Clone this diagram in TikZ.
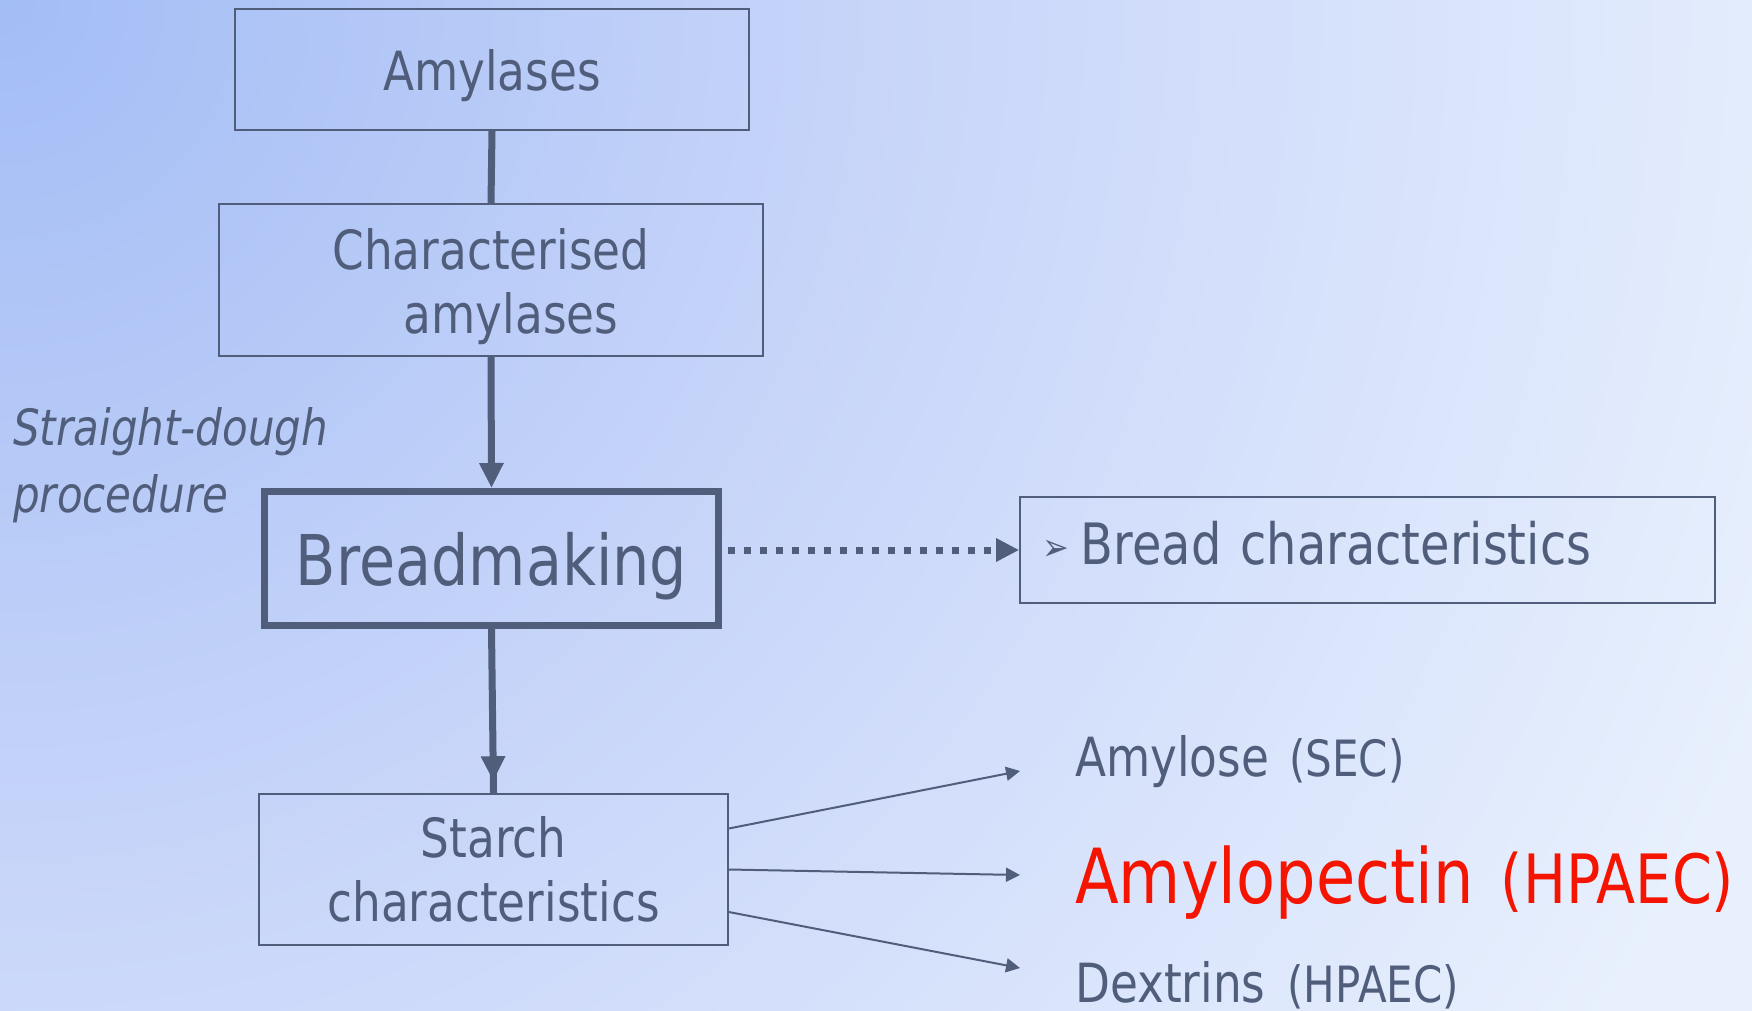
\documentclass[tikz,border=0pt]{standalone}
\usepackage{fontspec}
\setmainfont[FakeStretch=0.84]{DejaVu Sans}
\usetikzlibrary{arrows.meta,decorations.markings}
\definecolor{ink}{RGB}{80,94,124}
\definecolor{hot}{RGB}{245,20,0}
\definecolor{bgA}{RGB}{163,189,245}
\definecolor{bgB}{RGB}{198,212,249}
\definecolor{bgC}{RGB}{232,240,253}
\pgfdeclareradialshading{bgshade}{\pgfpointorigin}{color(0bp)=(bgA); color(10bp)=(bgB); color(22.6bp)=(bgC); color(50bp)=(bgC)}
\begin{document}
\begin{tikzpicture}[x=1pt,y=-1pt,
  box/.style={draw=ink, line width=1.6pt, text=ink, inner sep=0pt, align=center},
  heavy/.style={draw=ink, line width=7pt},
  bigtip/.style={-{Triangle[width=23pt,length=25pt]}},
  thinarrow/.style={draw=ink, line width=2pt, -{Triangle[width=14pt,length=14pt]}},
  lbl/.style={text=ink, inner sep=0pt, anchor=base west}]
\useasboundingbox (0,0) rectangle (1752,1011);
\begin{scope}
  \clip (0,0) rectangle (1752,1011);
  \fill[bgC] (0,0) rectangle (1752,1011);
  \shade[shading=bgshade] (0,0) circle (2100pt);
\end{scope}

\node[box, minimum width=514pt, minimum height=121pt, text depth=0pt,
      font=\fontsize{54}{64}\selectfont] (amy) at (492,69.5) {Amylases};
\node[box, minimum width=544pt, minimum height=152pt,
      font=\fontsize{54}{64}\selectfont] (char) at (491,280) {\rule{0pt}{55pt}Characterised\\\hspace*{40pt}amylases};
\node[box, line width=7pt, minimum width=454pt, minimum height=134pt, text depth=0pt,
      font=\fontsize{70}{84}\selectfont] (bread) at (491.5,558.5) {Breadmaking};
\node[box, minimum width=695pt, minimum height=106pt, text width=651pt, inner xsep=22pt, align=left,
      font=\fontsize{57}{68}\selectfont] (bchar) at (1367.5,550)
      {\rule[-14pt]{0pt}{14pt}\raisebox{4pt}{\fontsize{38}{38}\selectfont ➢}\hspace{12pt}Bread characteristics};
\node[box, minimum width=469pt, minimum height=151pt,
      font=\fontsize{54}{64}\selectfont] (starch) at (493.5,869.5) {Starch\\characteristics};

\node[lbl, align=left, font=\fontsize{50}{67}\selectfont\itshape] (proc) at (13,512) {Straight-dough\\procedure};

\node[lbl, font=\fontsize{54}{64}\selectfont] (amylose) at (1075,776)
  {Amylose\hspace{20pt}{\fontsize{50}{60}\selectfont(SEC)}};
\node[lbl, text=hot, font=\fontsize{76}{90}\selectfont] (amylopectin) at (1075,903)
  {Amylopectin\hspace{27pt}{\fontsize{68}{80}\selectfont(HPAEC)}};
\node[lbl, font=\fontsize{54}{64}\selectfont] (dextrins) at (1075,1002)
  {Dextrins\hspace{22pt}{\fontsize{50}{60}\selectfont(HPAEC)}};

\coordinate (e1) at (1020,771);
\coordinate (e2) at (1020,875);
\coordinate (e3) at (1020,968);

\draw[heavy] (amy.south) -- (char.north);
\draw[heavy, bigtip] (char.south) -- (bread.north);
\draw[heavy, postaction={decorate},
      decoration={markings, mark=at position -12pt with {\arrow[ink]{Triangle[width=23pt,length=25pt]}}}]
      (bread.south) -- (starch.north);
\draw[draw=ink, line width=7pt, dash pattern=on 7.3pt off 8.7pt, shorten <=6pt,
      -{Triangle[width=22pt,length=23pt]}] (bread.east |- bchar.west) -- (bchar.west);
\draw[thinarrow] ([yshift=41pt]starch.east) -- (e1);
\draw[thinarrow] (starch.east) -- (e2);
\draw[thinarrow] ([yshift=-42.5pt]starch.east) -- (e3);
\end{tikzpicture}
\end{document}
